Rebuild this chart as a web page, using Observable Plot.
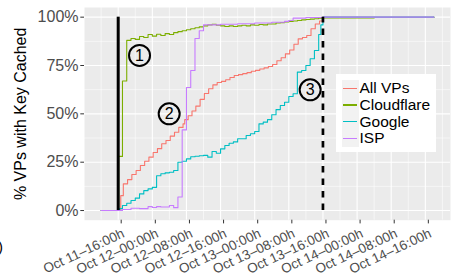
<!DOCTYPE html>
<html><head><meta charset="utf-8">
<script src="https://cdn.jsdelivr.net/npm/d3@7"></script>
<script src="https://cdn.jsdelivr.net/npm/@observablehq/plot@0.6"></script>
<style>
body{margin:0;background:#fff;font-family:"Liberation Sans",Arial,sans-serif;}
#wrap{position:relative;width:451px;height:277px;overflow:hidden;}
#legend{position:absolute;left:336px;top:74px;width:100px;height:78px;background:#fff;}
.item{position:absolute;left:5.5px;height:17px;display:flex;align-items:center;font-size:15.5px;color:#000;white-space:nowrap;}
.key{width:17px;height:17px;background:#F2F2F2;position:relative;margin-right:1px;flex:none;}
.key span{position:absolute;left:1.5px;right:1.5px;top:7.9px;height:1.2px;}
#frag{position:absolute;left:-30px;width:33px;top:238px;text-align:right;font-size:15px;color:#000;}
</style></head>
<body><div id="wrap"></div>
<script>
// ---- data (hours after Oct 11 16:00, % of VPs) ----
const seriesNames = ["All VPs", "Cloudflare", "Google", "ISP"];
const seriesColors = ["#F8766D", "#7CAE00", "#00BFC4", "#C77CFF"];
const allVPs = [[-4,0],[0.6,7.7],[1.2,13.8],[2.2,16],[3.2,18.6],[4.2,20.7],[5.2,23.3],[6.2,25.5],[7.2,27.6],[8.2,30],[9.2,32],[10.2,34.5],[11.2,36.2],[12.2,38.5],[13.2,40.5],[14.2,43],[15.2,44.8],[15.6,47],[16.4,49],[17.3,51.5],[18.2,54],[19.2,57.5],[20.2,60.5],[21.2,63],[22.2,65],[23.2,66.2],[24.2,66.8],[25.2,67.6],[26.2,68.8],[27.2,69.8],[28.2,70.3],[29.2,70.8],[30.2,71.3],[31.2,72],[32.2,72.5],[33.2,73.2],[34.2,73.8],[35.2,74.5],[36.2,75.5],[37.2,77.5],[38.2,79],[39.2,81],[40.2,83],[41.2,86],[42.2,88.8],[43.2,89.5],[44.2,90.5],[45.2,94],[46.2,96.5],[47.2,98],[48,100],[74,100]];
const cloudflare = [[-4,0],[0.1,28],[1,67],[2,88],[3,89],[4,88.5],[5,90],[6,89.5],[7,91],[8,90.2],[9,91.2],[10,90.5],[11,91.5],[12,91],[13,92],[14,92.5],[15,93],[16,93.5],[17,94],[18,94.5],[19,95],[20,95.5],[21,96],[22,96.3],[23,95.8],[24,95.5],[25,95.2],[26,95.5],[27,95.2],[28,95.5],[29,95.8],[30,95.5],[31,96],[32,95.8],[33,96.2],[34,96],[35,96.5],[36,96.5],[37,97],[38,97.2],[39,97.5],[40,97.8],[41,98],[42,98.3],[43,98.6],[44,98.8],[45,99],[46,99.2],[47,99.5],[48,99.6],[60,99.8],[74,100]];
const google = [[-4,0],[0.3,1],[1,2.6],[2,3.8],[3,5.2],[4,6.4],[5,8.6],[6,10.3],[7,11.2],[8,12],[9,18],[10,19],[11,19.5],[12,19.8],[13,20.7],[14,25],[15,25.5],[16,26.7],[17,27.8],[18,28.1],[19,28.3],[20,28.5],[21,27.6],[22,30.5],[23,29.6],[24,31.9],[25,33.6],[26,34.8],[27,35.5],[28,37.1],[29,37.1],[30,38.8],[31,39.7],[32,40.9],[33,44.8],[34,45.7],[35,47],[36,49.5],[37,52.2],[38,54.3],[39,56],[40,59],[41,60.4],[42,71.6],[43,72.4],[44,75],[45,78.5],[46,82.8],[47,91],[47.5,96],[48,100],[74,100]];
const isp = [[-4,0],[1,0.5],[3,1.2],[5,1],[7,2],[8,1.6],[9,2],[10,1.8],[12,2.6],[13,1.5],[14,7],[15,41.7],[16,63.6],[17,72.4],[18,89],[19,93],[20,96],[24,96.3],[28,96.6],[32,97],[36,97.4],[39,97.8],[40,98.3],[41,99.5],[44,99.8],[48,100],[74,100]];
const tickHours = [0, 8, 16, 24, 32, 40, 48, 56, 64, 72];
const tickLabels = ["Oct 11–16:00h","Oct 12–00:00h","Oct 12–08:00h","Oct 12–16:00h","Oct 13–00:00h","Oct 13–08:00h","Oct 13–16:00h","Oct 14–00:00h","Oct 14–08:00h","Oct 14–16:00h"];
const yTicks = [0, 25, 50, 75, 100];
const eventHours = [0, 48];
const annotLabels = ["1", "2", "3"];
const annotHours = [5.0, 11.95, 45.0];
const annotPct = [80.2, 50, 62.4];
const yTitle = "% VPs with Key Cached";

// ---- build ----
const base = Date.UTC(2016, 9, 11, 16);
const T = h => new Date(base + h * 3600e3);
const seriesData = [allVPs, cloudflare, google, isp];
const rows = seriesData.flatMap((arr, i) => arr.map(([h, v]) => ({series: seriesNames[i], time: T(h), value: v})));
const tickTimes = tickHours.map(T);
const minorTimes = tickHours.map(h => T(h - 4)).concat([T(76)]);
const minorY = [12.5, 37.5, 62.5, 87.5];
const annots = annotLabels.map((l, i) => ({label: l, time: T(annotHours[i]), value: annotPct[i]}));

const chart = Plot.plot({
  width: 451, height: 277,
  marginLeft: 84, marginRight: 1, marginTop: 7, marginBottom: 57.3,
  style: {fontFamily: "'Liberation Sans', Arial, sans-serif", background: "white", overflow: "visible"},
  x: {type: "utc", domain: [T(-7.9), T(77.9)]},
  y: {domain: [-5, 105]},
  color: {domain: seriesNames, range: seriesColors},
  marks: [
    Plot.frame({fill: "#EBEBEB", stroke: "none"}),
    Plot.ruleX(minorTimes, {stroke: "white", strokeWidth: 0.55}),
    Plot.ruleY(minorY, {stroke: "white", strokeWidth: 0.55}),
    Plot.ruleX(tickTimes, {stroke: "white", strokeWidth: 1.1}),
    Plot.ruleY(yTicks, {stroke: "white", strokeWidth: 1.1}),
    Plot.line(rows, {x: "time", y: "value", z: "series", stroke: "series", curve: "step-after", strokeWidth: 1.1}),
    Plot.ruleX([T(eventHours[0])], {y1: 0, y2: 100, stroke: "black", strokeWidth: 3}),
    Plot.ruleX([T(eventHours[1])], {y1: 0, y2: 100, stroke: "black", strokeWidth: 2.7, strokeDasharray: "6.5,6"}),
    Plot.dot(annots, {x: "time", y: "value", r: 10.5, stroke: "black", strokeWidth: 2, fill: "none"}),
    Plot.text(annots, {x: "time", y: "value", text: "label", fontSize: 16, fill: "black"}),
    Plot.axisY({ticks: yTicks, tickFormat: d => d + "%", tickSize: 3.7, tickPadding: 2.3, fontSize: 16, stroke: "#333333", fill: "#4D4D4D", label: null}),
    Plot.axisX({ticks: tickTimes, tickFormat: (d, i) => tickLabels[tickTimes.findIndex(t => +t === +d)], tickSize: 3.7, tickPadding: 4, tickRotate: -25, textAnchor: "end", lineAnchor: "top", dx: 3, fontSize: 13.5, stroke: "#333333", fill: "#4D4D4D", label: null}),
    Plot.text([yTitle], {frameAnchor: "left", rotate: -90, dx: -64, textAnchor: "middle", lineAnchor: "middle", fontSize: 16, fill: "black"})
  ]
});
const wrap = document.getElementById("wrap");
wrap.appendChild(chart);

const legend = document.createElement("div");
legend.id = "legend";
seriesNames.forEach((name, i) => {
  const item = document.createElement("div");
  item.className = "item";
  item.style.top = (5.8 + i * 16.7) + "px";
  item.innerHTML = `<div class="key"><span style="background:${seriesColors[i]}"></span></div><span>${name}</span>`;
  legend.appendChild(item);
});
wrap.appendChild(legend);
const frag = document.createElement("div");
frag.id = "frag"; frag.textContent = "(a)";
wrap.appendChild(frag);
</script>
</body></html>
